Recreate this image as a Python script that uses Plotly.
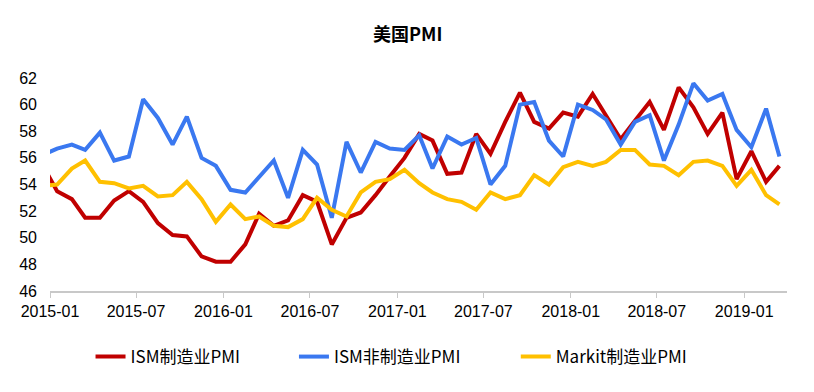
import pandas as pd
import plotly.graph_objects as go

# Monthly observations (Dec 2014 point is partly clipped at the left edge, as in the reference)
months = pd.period_range("2014-12", "2019-03", freq="M").strftime("%Y-%m").tolist()

ism_mfg = [55.5,
           53.5, 52.9, 51.5, 51.5, 52.8, 53.5, 52.7, 51.1, 50.2, 50.1, 48.6, 48.2,
           48.2, 49.5, 51.8, 50.9, 51.3, 53.2, 52.7, 49.5, 51.5, 51.9, 53.2, 54.6,
           56.0, 57.8, 57.3, 54.8, 54.9, 57.8, 56.3, 58.7, 60.9, 58.7, 58.2, 59.4,
           59.1, 60.8, 59.2, 57.4, 58.8, 60.2, 58.1, 61.3, 59.8, 57.8, 59.4, 54.4,
           56.5, 54.2, 55.4]
ism_nonmfg = [56.2,
              56.7, 57.0, 56.6, 57.9, 55.8, 56.1, 60.4, 59.0, 57.0, 59.1, 56.0, 55.4,
              53.6, 53.4, 54.6, 55.8, 53.0, 56.6, 55.5, 51.5, 57.2, 54.9, 57.2, 56.7,
              56.6, 57.7, 55.2, 57.6, 57.0, 57.5, 54.0, 55.4, 60.0, 60.2, 57.3, 56.1,
              60.0, 59.6, 58.9, 57.0, 58.7, 59.2, 55.8, 58.5, 61.6, 60.3, 60.8, 58.1,
              56.8, 59.7, 56.1]
markit_mfg = [53.9,
              54.0, 55.2, 55.8, 54.2, 54.1, 53.7, 53.9, 53.1, 53.2, 54.2, 52.9, 51.2,
              52.5, 51.4, 51.6, 50.9, 50.8, 51.4, 53.0, 52.1, 51.6, 53.4, 54.2, 54.4,
              55.1, 54.1, 53.4, 52.9, 52.7, 52.1, 53.4, 52.9, 53.2, 54.7, 54.0, 55.3,
              55.7, 55.4, 55.7, 56.6, 56.6, 55.5, 55.4, 54.7, 55.7, 55.8, 55.4, 53.9,
              55.1, 53.2, 52.5]

series_names = ["ISM制造业PMI", "ISM非制造业PMI", "Markit制造业PMI"]
series_colors = ["#C00000", "#3A78F0", "#FFC000"]
legend_ids = ["legend", "legend2", "legend3"]
legend_x = [0.055, 0.331, 0.632]

x_dates = pd.to_datetime([m + "-16" for m in months])

fig = go.Figure()
for name, vals, col, lg in zip(series_names, [ism_mfg, ism_nonmfg, markit_mfg],
                               series_colors, legend_ids):
    fig.add_trace(go.Scatter(x=x_dates, y=vals, mode="lines", name=name, legend=lg,
                             line=dict(color=col, width=4)))

legend_style = dict(orientation="h", xanchor="left", y=-0.31, yanchor="middle",
                    font=dict(family="Noto Sans CJK SC", size=17, color="black"),
                    bgcolor="rgba(0,0,0,0)")

# page body has an 8px default margin, so the figure is sized 806x384
fig.update_layout(
    width=806, height=384,
    margin=dict(l=42, r=27, t=70, b=101),
    paper_bgcolor="white", plot_bgcolor="white",
    title=dict(text="<b>美国PMI</b>", x=0.496, xanchor="center", y=0.93, yanchor="middle",
               font=dict(family="Noto Sans CJK SC", size=18, color="black")),
    legend=dict(x=legend_x[0], **legend_style),
    legend2=dict(x=legend_x[1], **legend_style),
    legend3=dict(x=legend_x[2], **legend_style),
    showlegend=True,
)
fig.update_xaxes(
    type="date", range=["2015-01-01", "2019-04-01"],
    tick0="2015-01-01", dtick="M6", tickformat="%Y-%m",
    showgrid=False, zeroline=False,
    showline=True, linecolor="#C8C8C8", linewidth=1.5,
    ticks="outside", ticklen=5, tickcolor="#C8C8C8",
    tickfont=dict(family="Liberation Sans", size=16, color="black"),
)
fig.update_yaxes(
    range=[46, 62], dtick=2, tick0=46,
    showgrid=False, zeroline=False, showline=False,
    ticks="", ticklabelstandoff=12,
    tickfont=dict(family="Liberation Sans", size=16, color="black"),
)

fig.write_html("out.html")
